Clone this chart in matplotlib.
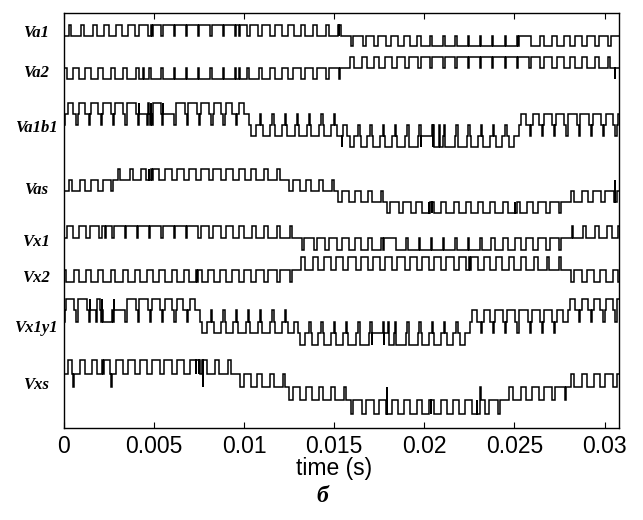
import matplotlib
matplotlib.use("Agg")
import matplotlib.pyplot as plt

# ---------------- data ----------------
carrier_period = 0.00068      # s, one PWM carrier period
n_periods = 46
t_max = 0.0308

trace_names = ["Va1", "Va2", "Va1b1", "Vas", "Vx1", "Vx2", "Vx1y1", "Vxs"]

# sections: (end time, base level, pulse level, spike level, spike width)
va1_sections = [(0.0155, 0, 1, 0, 0), (1.0, 0, -1, 0, 0)]
va1_widths = [0.12, 0.22, 0.32, 0.42, 0.5, 0.6, 0.7, 0.86, 0.88, 0.9, 0.9, 0.9, 0.9, 0.88, 0.86, 0.72,
              0.62, 0.54, 0.46, 0.38, 0.3, 0.22, 0.14,
              0.12, 0.22, 0.32, 0.42, 0.5, 0.6, 0.7, 0.86, 0.88, 0.9, 0.9, 0.9, 0.9, 0.88, 0.86, 0.72,
              0.62, 0.54, 0.46, 0.38, 0.3, 0.22, 0.14]
va1_glitches = [(0.0152, 1), (0.0049, 0), (0.0097, 0), (0.0204, -1), (0.0252, -1)]

va2_sections = [(0.0155, 0, -1, 0, 0), (1.0, 0, 1, 0, 0)]
va2_widths = [0.45, 0.5, 0.55, 0.6, 0.65, 0.72, 0.8, 0.86, 0.88, 0.9, 0.9, 0.9, 0.9, 0.88, 0.85, 0.75,
              0.65, 0.55, 0.45, 0.38, 0.3, 0.2, 0.12,
              0.3, 0.4, 0.48, 0.56, 0.64, 0.72, 0.8, 0.86, 0.88, 0.9, 0.9, 0.9, 0.9, 0.88, 0.85, 0.75,
              0.65, 0.55, 0.45, 0.38, 0.3, 0.2, 0.12]
va2_glitches = [(0.0306, -1), (0.0044, 0), (0.0097, 0), (0.0198, 1), (0.0254, 1)]

va1b1_sections = [(0.0103, 1, 2, 0, 0.12), (0.0155, 0, -1, 1, 0.1),
                  (0.0254, -1, -2, 0, 0.12), (1.0, 0, 1, -1, 0.1)]
va1b1_widths = [0.4, 0.5, 0.55, 0.6, 0.7, 0.75, 0.8, 0.8, 0.8, 0.75, 0.7, 0.6, 0.55, 0.5, 0.4,
                0.4, 0.55, 0.6, 0.65, 0.7, 0.65, 0.6, 0.5,
                0.4, 0.5, 0.55, 0.6, 0.7, 0.75, 0.8, 0.8, 0.75, 0.7, 0.6, 0.55, 0.5, 0.4,
                0.4, 0.5, 0.6, 0.65, 0.7, 0.7, 0.65, 0.6, 0.5]
va1b1_glitches = [(0.0154, -2), (0.0046, 0), (0.0049, 0), (0.0205, 0), (0.0208, 0)]

vas_sections = [(0.0027, 0, 1, 0, 0), (0.0122, 1, 2, 1, 0), (0.0152, 1, 0, 1, 0),
                (0.0180, 0, -1, 0, 0), (0.0277, -1, -2, -1, 0), (1.0, -1, 0, -1, 0)]
vas_widths = [0.25, 0.4, 0.55, 0.65,
              0.2, 0.3, 0.4, 0.5, 0.55, 0.6, 0.6, 0.6, 0.6, 0.55, 0.5, 0.4, 0.3, 0.2,
              0.3, 0.5, 0.65, 0.8,
              0.3, 0.45, 0.6, 0.7,
              0.2, 0.3, 0.4, 0.5, 0.55, 0.6, 0.6, 0.6, 0.6, 0.6, 0.55, 0.5, 0.4, 0.3, 0.2,
              0.3, 0.45, 0.6, 0.7, 0.8]
vas_glitches = [(0.0306, 1), (0.0047, 2), (0.00485, 2), (0.0050, 2), (0.0098, 2), (0.00995, 2),
                (0.0201, -2), (0.02025, -2), (0.0204, -2), (0.0250, -2), (0.02515, -2)]

vx1_sections = [(0.0126, 0, 1, 0, 0), (0.0280, 0, -1, 0, 0), (1.0, 0, 1, 0, 0)]
vx1_widths = [0.5, 0.6, 0.7, 0.86, 0.88, 0.9, 0.9, 0.9, 0.9, 0.88, 0.86, 0.72, 0.62, 0.54, 0.46,
              0.38, 0.3, 0.22, 0.14,
              0.12, 0.22, 0.32, 0.42, 0.5, 0.6, 0.7, 0.86, 0.88, 0.9, 0.9, 0.9, 0.9, 0.88, 0.86,
              0.72, 0.62, 0.54, 0.46, 0.38, 0.3, 0.2,
              0.15, 0.25, 0.35, 0.45, 0.5]
vx1_glitches = [(0.0023, 0), (0.0075, 0), (0.0177, -1), (0.0230, -1)]

vx2_sections = [(0.0126, 0, -1, 0, 0), (0.0280, 0, 1, 0, 0), (1.0, 0, -1, 0, 0)]
vx2_widths = [0.6, 0.6, 0.62, 0.62, 0.6, 0.58, 0.56, 0.55, 0.55, 0.55, 0.55, 0.55, 0.52, 0.5, 0.45,
              0.4, 0.32, 0.25, 0.15,
              0.3, 0.4, 0.5, 0.55, 0.58, 0.6, 0.6, 0.6, 0.6, 0.6, 0.6, 0.6, 0.58, 0.56, 0.55, 0.5,
              0.45, 0.4, 0.35, 0.3, 0.2, 0.15,
              0.3, 0.4, 0.5, 0.55, 0.6]
vx2_glitches = [(0.0022, -1), (0.0074, -1), (0.0175, 1), (0.0225, 1)]

vx1y1_sections = [(0.0075, 1, 2, 0, 0.12), (0.0128, 0, -1, 1, 0.1), (0.0227, -1, -2, 0, 0.12),
                  (0.0281, 0, 1, -1, 0.1), (1.0, 1, 2, 0, 0.12)]
vx1y1_widths = [0.7, 0.75, 0.8, 0.8, 0.8, 0.75, 0.7, 0.6, 0.55, 0.5, 0.4,
                0.4, 0.55, 0.6, 0.65, 0.7, 0.65, 0.6, 0.5,
                0.4, 0.5, 0.55, 0.6, 0.7, 0.75, 0.8, 0.8, 0.75, 0.7, 0.6, 0.55, 0.5, 0.4,
                0.4, 0.5, 0.6, 0.65, 0.7, 0.65, 0.6, 0.5,
                0.4, 0.5, 0.55, 0.6, 0.7]
vx1y1_glitches = [(0.0018, 0), (0.0021, 0), (0.0177, 0), (0.0180, 0)]

vxs_sections = [(0.0094, 1, 2, 1, 0), (0.0125, 1, 0, 1, 0), (0.0159, 0, -1, 0, 0),
                (0.0248, -1, -2, -1, 0), (0.0279, -1, 0, -1, 0), (1.0, 0, 1, 0, 0)]
vxs_widths = [0.3, 0.35, 0.4, 0.5, 0.55, 0.6, 0.6, 0.6, 0.6, 0.55, 0.5, 0.4, 0.3, 0.2,
              0.3, 0.5, 0.65, 0.8,
              0.3, 0.45, 0.55, 0.65, 0.75,
              0.2, 0.3, 0.4, 0.5, 0.55, 0.6, 0.6, 0.6, 0.55, 0.5, 0.4, 0.3, 0.2,
              0.3, 0.45, 0.6, 0.7, 0.8,
              0.25, 0.4, 0.55, 0.65, 0.7]
vxs_glitches = [(0.0005, 0), (0.0026, 0), (0.0077, 0), (0.0179, 0), (0.0231, 0),
                (0.0021, 2), (0.00225, 2), (0.0073, 2), (0.0075, 2),
                (0.0202, -2), (0.02035, -2), (0.0229, -2), (0.02305, -2)]

x_ticks = [0, 0.005, 0.01, 0.015, 0.02, 0.025, 0.03]
x_tick_labels = ["0", "0.005", "0.01", "0.015", "0.02", "0.025", "0.03"]

# ---------------- layout (pixel rows of the traces) ----------------
trace_zero_y = [36, 68, 125, 191, 238, 270, 322, 387]
trace_step = [10.5, 11, 11.2, 11, 12, 12.5, 11.5, 13.3]
label_y = [33, 73, 128, 190, 242, 278, 328, 385]

traces = [
    (va1_sections, va1_widths, va1_glitches),
    (va2_sections, va2_widths, va2_glitches),
    (va1b1_sections, va1b1_widths, va1b1_glitches),
    (vas_sections, vas_widths, vas_glitches),
    (vx1_sections, vx1_widths, vx1_glitches),
    (vx2_sections, vx2_widths, vx2_glitches),
    (vx1y1_sections, vx1y1_widths, vx1y1_glitches),
    (vxs_sections, vxs_widths, vxs_glitches),
]


def build(sections, widths, glitches):
    T = carrier_period
    pts = []
    last_base = 0
    for k in range(n_periods):
        t0 = k * T
        c = t0 + T / 2
        sec = sections[-1]
        for s in sections:
            if c < s[0]:
                sec = s
                break
        _, base, pulse, spike, sw = sec
        w = widths[k] * T
        if sw > 0:
            pts.append((t0, spike))
            pts.append((t0 + sw * T, base))
        else:
            pts.append((t0, base))
        pts.append((c - w / 2, pulse))
        pts.append((c + w / 2, base))
        last_base = base
    pts.append((n_periods * T, last_base))
    base_pts = list(pts)
    extra = []
    for tg, lv in glitches:
        cur = base_pts[0][1]
        for t, l in base_pts:
            if t <= tg:
                cur = l
        extra.append((tg, lv))
        extra.append((tg + 0.00004, cur))
    pts = sorted(base_pts + extra, key=lambda p: p[0])
    return [p[0] for p in pts], [p[1] for p in pts]


W, H = 643, 520
fig = plt.figure(figsize=(W / 100, H / 100), dpi=100)
ax_left, ax_right, ax_top, ax_bottom = 64, 619, 13, 428
ax = fig.add_axes([ax_left / W, 1 - ax_bottom / H, (ax_right - ax_left) / W, (ax_bottom - ax_top) / H])

for i, (secs, wid, gl) in enumerate(traces):
    ts, lv = build(secs, wid, gl)
    ys = [trace_zero_y[i] - l * trace_step[i] for l in lv]
    ax.plot(ts, ys, drawstyle="steps-post", color="black", lw=1.1, solid_joinstyle="miter")

ax.set_xlim(0, t_max)
ax.set_ylim(ax_bottom, ax_top)
ax.set_yticks([])
ax.set_xticks(x_ticks)
ax.set_xticklabels(x_tick_labels, fontfamily="Liberation Sans", fontsize=16.5)
ax.tick_params(axis="x", direction="in", top=True, length=4, width=0.8, pad=5)
for sp in ax.spines.values():
    sp.set_linewidth(1.0)

for name, y in zip(trace_names, label_y):
    fig.text(36 / W, 1 - y / H, name, ha="center", va="center", fontfamily="Liberation Serif",
             fontweight="bold", fontstyle="italic", fontsize=12)

fig.text(334 / W, 1 - 468 / H, "time (s)", ha="center", va="center",
         fontfamily="Liberation Sans", fontsize=16.5)
fig.text(322 / W, 1 - 497 / H, "б", ha="center", va="center", fontfamily="Liberation Serif",
         fontweight="bold", fontstyle="italic", fontsize=17)

fig.savefig("out.png", dpi=100)
